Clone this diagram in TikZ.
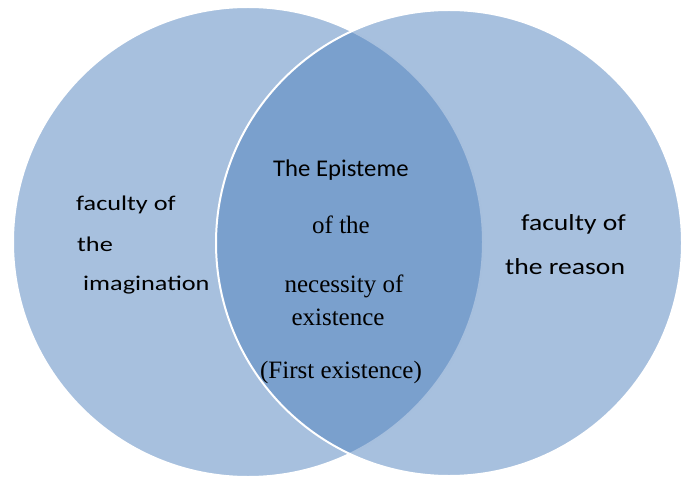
\documentclass[tikz,border=0pt]{standalone}
\usepackage{fontspec}
\setmainfont{Liberation Serif}
\newfontfamily\carl{Carlito}
\definecolor{accent}{HTML}{4F81BD}
\tikzset{
  venn/.style={circle, inner sep=0pt, outer sep=0pt, minimum size=#1,
    fill=accent, fill opacity=0.5, draw=white, draw opacity=1, line width=2pt},
  sanslbl/.style={anchor=base west, inner sep=0pt, text=black,
    font=\carl\fontsize{21}{24}\selectfont},
  seriflbl/.style={anchor=base, inner sep=0pt, text=black,
    font=\fontsize{25}{28}\selectfont},
}
\begin{document}
\begin{tikzpicture}[x=1pt,y=-1pt]
\useasboundingbox (0,0) rectangle (682,481);
\node[venn=470pt] (L) at (248,242) {};
\node[venn=466pt] (R) at (449,243) {};
% left labels
\node[sanslbl] (l1) at (76,210) {\scalebox{1.25}[1]{faculty of}};
\node[sanslbl] (l2) at (77,251) {\scalebox{1.25}[1]{the}};
\node[sanslbl] (l3) at (83,290) {\scalebox{1.25}[1]{imagination}};
% right labels
\node[sanslbl, font=\carl\fontsize{23}{26}\selectfont] (r1) at (521,230) {\scalebox{1.2}[1]{faculty of}};
\node[sanslbl, font=\carl\fontsize{23}{26}\selectfont] (r2) at (505,274) {\scalebox{1.2}[1]{the reason}};
% centre labels
\node[sanslbl, font=\carl\fontsize{24}{27}\selectfont] (c1) at (273,177) {\scalebox{1.03}[1]{The Episteme}};
\node[seriflbl] (c2) at (341,233) {of the};
\node[seriflbl] (c3) at (344,292) {necessity of};
\node[seriflbl] (c4) at (338,325) {existence};
\node[seriflbl] (c5) at (341,378) {(First existence)};
\end{tikzpicture}
\end{document}
